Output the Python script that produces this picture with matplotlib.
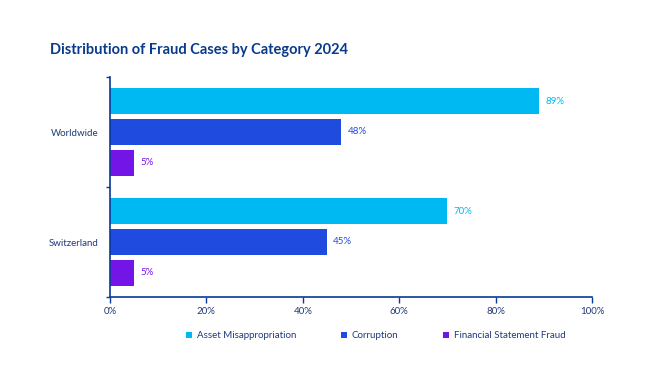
import matplotlib
matplotlib.use("Agg")
import matplotlib.pyplot as plt
from matplotlib.ticker import FuncFormatter

regions = ["Worldwide", "Switzerland"]
series_names = ["Asset Misappropriation", "Corruption", "Financial Statement Fraud"]
asset = [89, 70]
corruption = [48, 45]
financial = [5, 5]
colors = ["#00B8F2", "#1F4BDF", "#7415E8"]
title = "Distribution of Fraud Cases by Category 2024"

plt.rcParams['font.family'] = ['Lato', 'DejaVu Sans']
axis_color = "#0A3A99"
text_color = "#1F3A7A"

fig = plt.figure(figsize=(6.6, 3.8), dpi=100)
ax = fig.add_axes([110/660, 1-297/380, (592-110)/660, (297-77)/380])

offsets = [-0.28, 0.0, 0.28]
h = 0.235
for vals, off, col, name in zip([asset, corruption, financial], offsets, colors, series_names):
    ys = [i + off for i in range(len(regions))]
    ax.barh(ys, vals, height=h, color=col, label=name)
    for y, v in zip(ys, vals):
        ax.text(v + 1.3, y, f"{v}%", va="center", ha="left", fontsize=7, color=col)

ax.set_xlim(0, 100)
ax.set_ylim(1.5, -0.5)
ax.set_yticks([0, 1])
ax.set_yticklabels(regions)
ax.set_yticks([-0.5, 0.5, 1.5], minor=True)
ax.tick_params(axis='y', which='major', length=0, labelsize=7, labelcolor=text_color, pad=8)
ax.tick_params(axis='y', which='minor', length=3, color=axis_color, width=1)
ax.set_xticks([0, 20, 40, 60, 80, 100])
ax.xaxis.set_major_formatter(FuncFormatter(lambda v, p: f"{int(v)}%"))
ax.tick_params(axis='x', length=4, color=axis_color, width=1, labelsize=7, labelcolor=text_color, pad=3)

for s in ["top", "right"]:
    ax.spines[s].set_visible(False)
for s in ["left", "bottom"]:
    ax.spines[s].set_color(axis_color)
    ax.spines[s].set_linewidth(1.2)

fig.text(50/660, 1-50/380, title, fontsize=10.5, fontweight="bold", color="#0A3A8C", va="center", ha="left")

leg = fig.legend(loc="center", bbox_to_anchor=(376/660, 1-336/380), ncol=3, frameon=False,
                 fontsize=7, handlelength=0.6, handleheight=0.6, columnspacing=4.6, handletextpad=0.5)
for t in leg.get_texts():
    t.set_color(text_color)

fig.savefig("out.png", dpi=100)
